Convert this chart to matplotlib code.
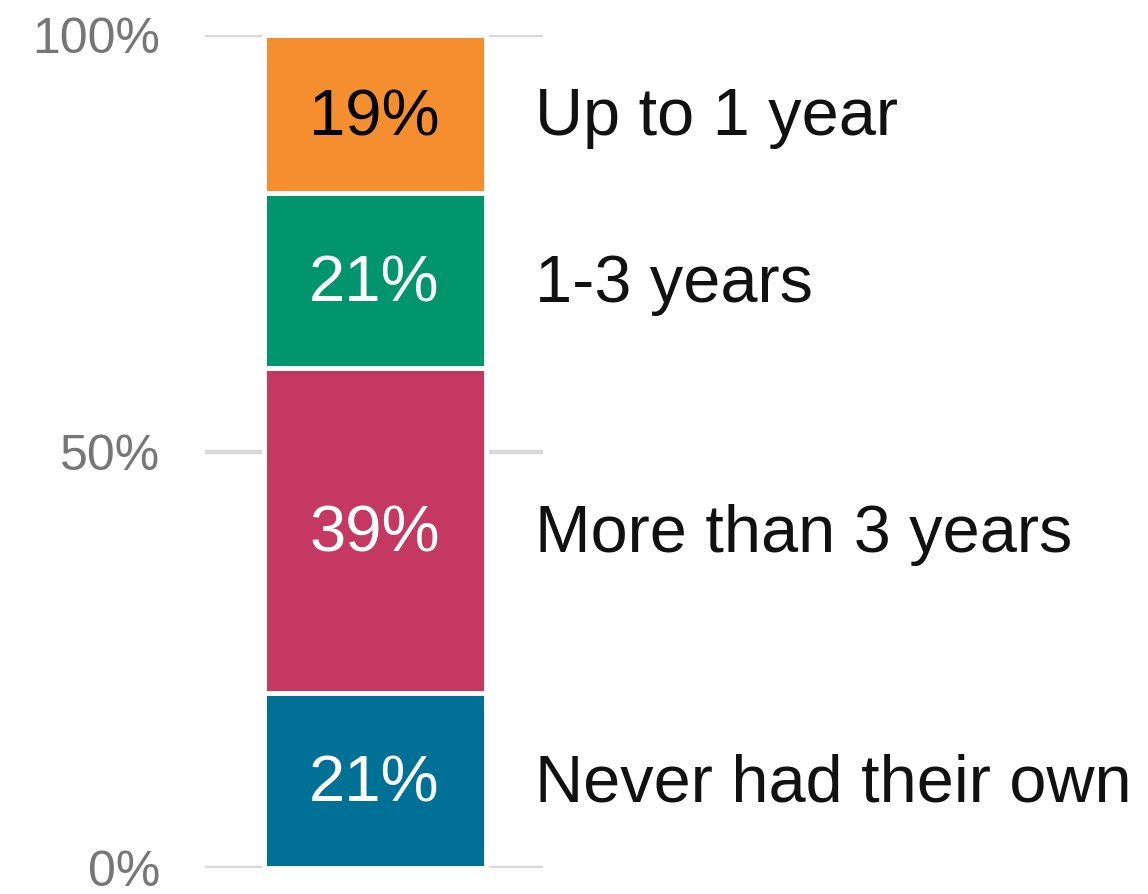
import matplotlib.pyplot as plt
from matplotlib.ticker import FixedLocator, FuncFormatter
from matplotlib.transforms import ScaledTranslation

# tenure shares, bottom to top of the stack
categories = ["Never had their own", "More than 3 years", "1-3 years", "Up to 1 year"]
shares = [21, 39, 21, 19]
colors = ["#007196", "#C43862", "#00956C", "#F58E2F"]
label_colors = ["white", "white", "white", "black"]
yticks = [0, 50, 100]

plt.rcParams["font.family"] = ["Liberation Sans", "DejaVu Sans"]

W, H = 1148, 894
fig = plt.figure(figsize=(W / 100, H / 100), dpi=100)
ax = fig.add_axes([205 / W, (H - 868) / H, (543 - 205) / W, (868 - 35) / H])

# white edge eats into the bar, so make it a touch wider
bar_center = (374.5 - 205) / 338
bar_width = 222 / 338

# nudge text a few pixels down so the digits sit centred in each segment
down = ScaledTranslation(0, -4 / 100, fig.dpi_scale_trans)

bottom = 0
for cat, val, col, lc in zip(categories, shares, colors, label_colors):
    ax.bar(bar_center, val, width=bar_width, bottom=bottom, color=col,
           edgecolor="white", linewidth=3.5, zorder=2)
    mid = bottom + val / 2
    ax.text(bar_center, mid, f"{val}%", ha="center", va="center",
            fontsize=47, color=lc, zorder=3, transform=ax.transData + down)
    ax.text(0.976, mid, cat, ha="left", va="center", fontsize=48,
            color="#111111", clip_on=False,
            transform=ax.get_yaxis_transform() + down)
    bottom += val

ax.set_xlim(0, 1)
ax.set_ylim(0, 100)
ax.yaxis.set_major_locator(FixedLocator(yticks))
ax.yaxis.set_major_formatter(FuncFormatter(lambda v, p: f"{v:.0f}%"))
ax.tick_params(axis="y", length=0, pad=32, labelsize=36, labelcolor="#767676")
ax.set_xticks([])
ax.grid(axis="y", color="#d9d9d9", linewidth=3.2, zorder=0)
ax.set_axisbelow(True)
for s in ax.spines.values():
    s.set_visible(False)

fig.savefig("out.png", dpi=100)
